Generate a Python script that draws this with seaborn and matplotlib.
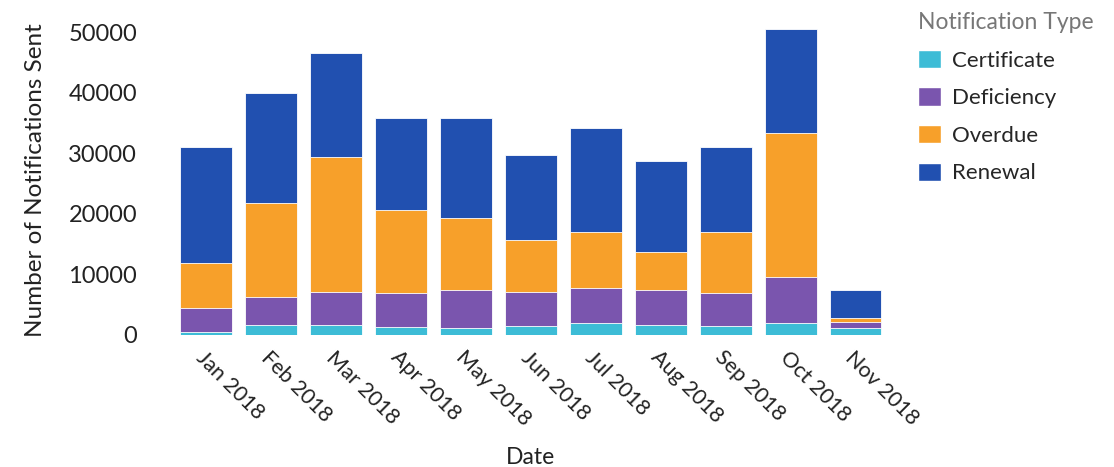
import numpy as np
import pandas as pd
import seaborn as sns
import matplotlib.pyplot as plt
from matplotlib.patches import Patch

# values
months = ['Jan 2018', 'Feb 2018', 'Mar 2018', 'Apr 2018', 'May 2018', 'Jun 2018',
          'Jul 2018', 'Aug 2018', 'Sep 2018', 'Oct 2018', 'Nov 2018']
certificate = [500, 1600, 1600, 1300, 1100, 1500, 2000, 1600, 1500, 2000, 1100]
deficiency = [3900, 4600, 5500, 5600, 6300, 5600, 5700, 5800, 5400, 7600, 1000]
overdue = [7500, 15500, 22200, 13700, 11900, 8500, 9300, 6300, 10100, 23800, 700]
renewal = [19100, 18200, 17300, 15300, 16600, 14100, 17100, 15100, 14100, 17200, 4600]

types = ['Certificate', 'Deficiency', 'Overdue', 'Renewal']
colors = {'Certificate': '#3dbcd6', 'Deficiency': '#7a55ae',
          'Overdue': '#f7a02a', 'Renewal': '#2150b0'}

df = pd.DataFrame({'Date': months, 'Certificate': certificate,
                   'Deficiency': deficiency, 'Overdue': overdue, 'Renewal': renewal})
cum = df[types].cumsum(axis=1)

sns.set_style('white')
plt.rcParams['font.family'] = ['Lato', 'DejaVu Sans']

fig, ax = plt.subplots(figsize=(11.14, 4.67), dpi=100)
fig.subplots_adjust(left=0.153, right=0.80, top=0.944, bottom=0.283)

# draw stacks back to front using cumulative totals
for t in reversed(types):
    sns.barplot(x=df['Date'], y=cum[t], color=colors[t], width=0.8,
                saturation=1, ax=ax, edgecolor='white', linewidth=0.6)

ax.set_ylim(0, 51000)
ax.set_xlim(-0.55, len(months) - 0.45)
ax.set_yticks([0, 10000, 20000, 30000, 40000, 50000])
ax.tick_params(axis='y', labelsize=17, colors='#222222', length=0, pad=24)
ax.tick_params(axis='x', labelsize=15.5, colors='#222222', length=0, pad=9)
plt.setp(ax.get_xticklabels(), rotation=-45, ha='left', rotation_mode='anchor')
ax.set_xlabel('Date', fontsize=16.5, color='#222222', labelpad=12)
ax.set_ylabel('Number of Notifications Sent', fontsize=17.5, color='#222222', labelpad=16)
sns.despine(left=True, bottom=True)

handles = [Patch(facecolor=colors[t], label=t) for t in types]
leg = ax.legend(handles=handles, title='Notification Type', loc='upper left',
                bbox_to_anchor=(1.01, 1.11), frameon=False, fontsize=16,
                title_fontsize=16.5, handlelength=1.0, handleheight=0.9,
                handletextpad=0.5, labelspacing=0.75, alignment='left')
leg.get_title().set_color('#777777')

fig.savefig('out.png', dpi=100)
